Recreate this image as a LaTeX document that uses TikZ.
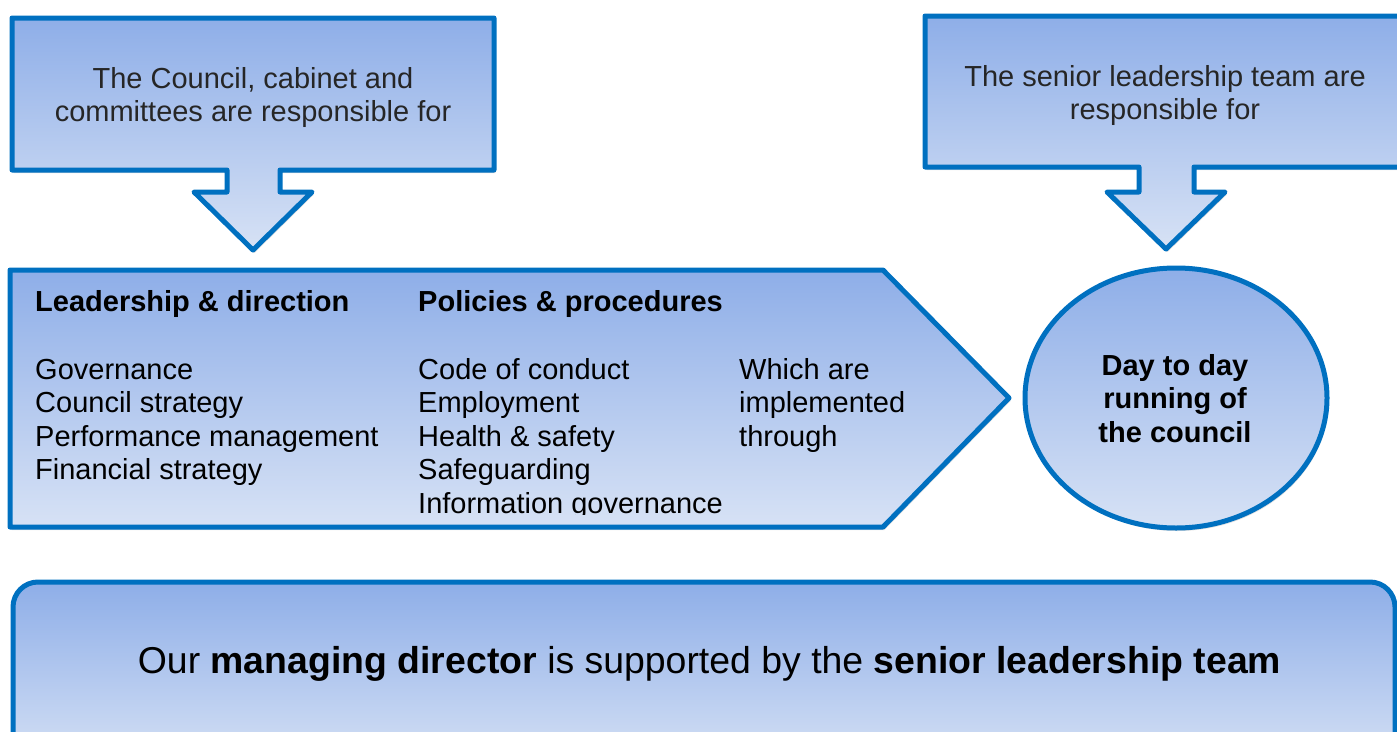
\documentclass[tikz,border=0pt]{standalone}
\usepackage{fontspec}
\setmainfont{Liberation Sans}
\usetikzlibrary{shadows}
\definecolor{bordblue}{HTML}{0070C0}
\definecolor{filltop}{HTML}{8EAEE8}
\definecolor{fillbot}{HTML}{D7E2F5}
\definecolor{txtgray}{HTML}{262626}
\tikzset{
  panel/.style={draw=bordblue, line width=5pt, line join=round,
    top color=filltop, bottom color=fillbot,
    drop shadow={opacity=0.25, shadow xshift=1.5pt, shadow yshift=-3pt}},
  txt/.style={anchor=base west, inner sep=0pt, font=\fontsize{29}{33.5}\selectfont, text=black},
  ctxt/.style={anchor=base, inner sep=0pt, font=\fontsize{29}{33.5}\selectfont, text=txtgray},
  btxt/.style={anchor=base, inner sep=0pt, font=\fontsize{29}{33.5}\selectfont\bfseries, text=black},
}
\begin{document}
\begin{tikzpicture}[x=1pt,y=-1pt]
\useasboundingbox (0,0) rectangle (1397,731);
\clip (0,0) rectangle (1397,731);

% left callout
\path[panel] (12,18) -- (494,18) -- (494,170) -- (280,170) -- (280,192) -- (312,192)
  -- (253,250) -- (194,192) -- (227,192) -- (227,170) -- (12,170) -- cycle;
\node[ctxt] (lc1) at (253,88) {The Council, cabinet and};
\node[ctxt] (lc2) at (253,121) {committees are responsible for};

% right callout
\path[panel] (925,16) -- (1420,16) -- (1420,167) -- (1194,167) -- (1194,192) -- (1225,192)
  -- (1166,249) -- (1107,192) -- (1139,192) -- (1139,167) -- (925,167) -- cycle;
\node[ctxt] (rc1) at (1165,86) {The senior leadership team are};
\node[ctxt] (rc2) at (1165,119) {responsible for};

% pentagon
\path[panel] (10,270) -- (883,270) -- (1009,398) -- (883,527) -- (10,527) -- cycle;
\node[txt, font=\fontsize{29}{33.5}\selectfont\bfseries] (h1) at (35,311) {Leadership \& direction};
\node[txt, font=\fontsize{29}{33.5}\selectfont\bfseries] (h2) at (418,311) {Policies \& procedures};
\foreach \t [count=\i] in {Governance, Council strategy, Performance management, Financial strategy}
  \node[txt] (ca\i) at (35,{379+33.5*(\i-1)}) {\t};
\begin{scope}
  \clip (400,330) rectangle (730,514);
  \foreach \t [count=\i] in {Code of conduct, Employment, Health \& safety, Safeguarding, Information governance}
    \node[txt] (cb\i) at (418,{379+33.5*(\i-1)}) {\t};
\end{scope}
\foreach \t [count=\i] in {Which are, implemented, through}
  \node[txt] (cc\i) at (739,{379+33.5*(\i-1)}) {\t};

% circle
\path[panel] (1176,398) ellipse [x radius=151pt, y radius=130pt];
\node[btxt] (d1) at (1175,375) {Day to day};
\node[btxt] (d2) at (1175,408.5) {running of};
\node[btxt] (d3) at (1175,442) {the council};

% bottom box
\path[panel, rounded corners=25pt] (13,582) rectangle (1395,770);
\node[anchor=base, inner sep=0pt, font=\fontsize{37.4}{42}\selectfont, text=black] (bt) at (709.5,673)
  {Our \textbf{managing director} is supported by the \textbf{senior leadership team}};
\end{tikzpicture}
\end{document}
